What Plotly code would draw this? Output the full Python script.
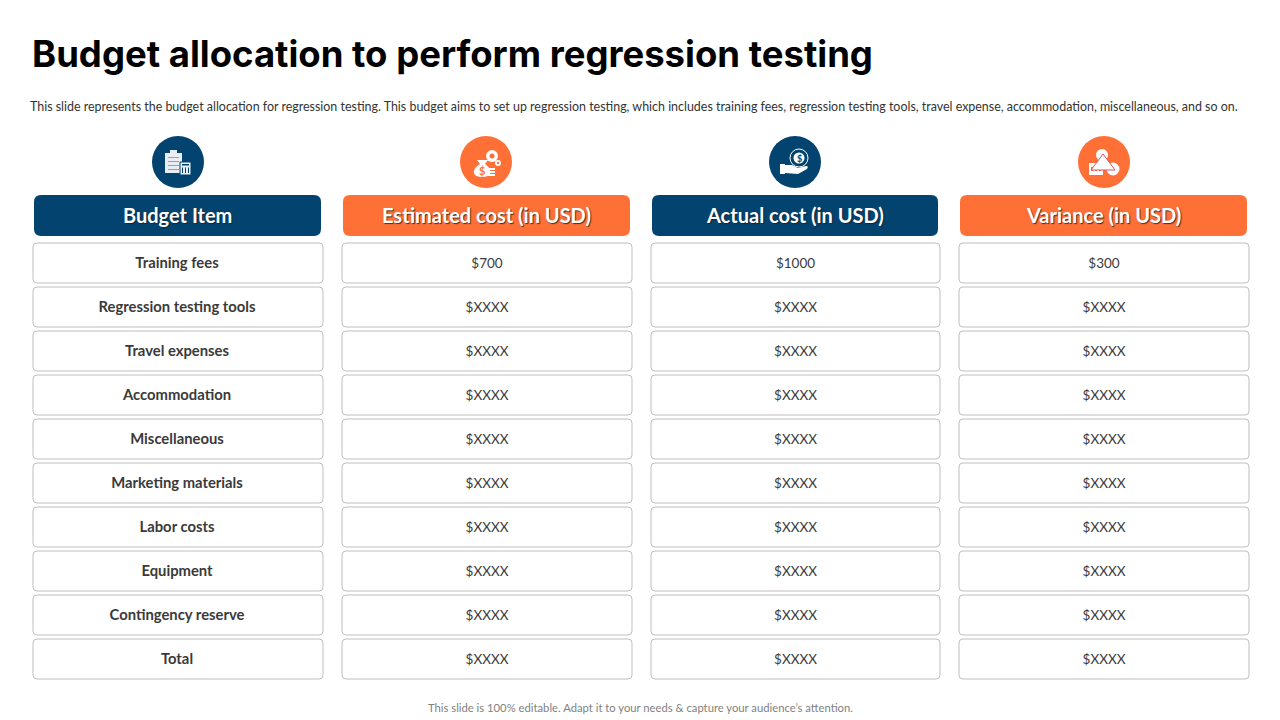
import plotly.graph_objects as go

NAVY = '#03436F'
ORANGE = '#FF7036'
BORDER = '#BFBFBF'
DARK = '#3A3A3A'

title = 'Budget allocation to perform regression testing'
subtitle = ('This slide represents the budget allocation for regression testing. This budget aims to set up '
            'regression testing, which includes training fees, regression testing tools, travel expense, '
            'accommodation, miscellaneous, and so on.')
footer = 'This slide is 100% editable. Adapt it to your needs & capture your audience\u2019s attention.'

headers = ['Budget Item', 'Estimated cost (in USD)', 'Actual cost (in USD)', 'Variance (in USD)']
budget_items = ['Training fees', 'Regression testing tools', 'Travel expenses', 'Accommodation',
                'Miscellaneous', 'Marketing materials', 'Labor costs', 'Equipment',
                'Contingency reserve', 'Total']
estimated = ['$700'] + ['$XXXX'] * 9
actual = ['$1000'] + ['$XXXX'] * 9
variance = ['$300'] + ['$XXXX'] * 9
columns = [budget_items, estimated, actual, variance]

# pixel layout of the slide
cell_x = [(33, 323), (342, 632), (651, 940), (959, 1249)]
head_x = [(34, 321), (343, 630), (652, 938), (960, 1247)]
head_colors = [NAVY, ORANGE, NAVY, ORANGE]
icon_x = [178, 486, 795, 1104]
row_top, row_h, row_step = 243, 40, 44

fig = go.Figure()


def round_rect(x0, y0, x1, y1, r):
    return (f'M{x0+r},{y0} L{x1-r},{y0} Q{x1},{y0} {x1},{y0+r} L{x1},{y1-r} Q{x1},{y1} {x1-r},{y1} '
            f'L{x0+r},{y1} Q{x0},{y1} {x0},{y1-r} L{x0},{y0+r} Q{x0},{y0} {x0+r},{y0} Z')


def path(d, fill='white', line=None, width=1):
    fig.add_shape(type='path', path=d, fillcolor=fill, layer='below',
                  line=dict(color=line or fill, width=width if line else 0))


def rect(x0, y0, x1, y1, fill='white', line=None, width=1):
    fig.add_shape(type='rect', x0=x0, y0=y0, x1=x1, y1=y1, fillcolor=fill, layer='below',
                  line=dict(color=line or fill, width=width if line else 0))


def circle(cx, cy, r, fill='white', line=None, width=1):
    fig.add_shape(type='circle', x0=cx-r, y0=cy-r, x1=cx+r, y1=cy+r, fillcolor=fill, layer='below',
                  line=dict(color=line or fill, width=width if line else 0))


# headers and icon discs
for i, name in enumerate(headers):
    x0, x1 = head_x[i]
    path(round_rect(x0, 195, x1, 236, 7), fill=head_colors[i])
    circle(icon_x[i], 162, 26, fill=head_colors[i])
    fig.add_annotation(x=(x0 + x1) / 2, y=214.5, text=f'<b>{name}</b>', showarrow=False,
                       font=dict(family='Lato', size=20, color='white',
                                 shadow='1px 1px 1px #4a3020' if head_colors[i] == ORANGE else '1px 1px 1px #12263a'))

# table cells
for i, col in enumerate(columns):
    x0, x1 = cell_x[i]
    for r in range(len(col)):
        y0 = row_top + r * row_step
        path(round_rect(x0, y0, x1, y0 + row_h, 4), fill='white', line=BORDER, width=1)
    fig.add_trace(go.Scatter(
        x=[(x0 + x1) / 2 - (1 if i == 0 else 0)] * len(col),
        y=[row_top + r * row_step + row_h / 2 + (1 if i == 0 else 2) for r in range(len(col))],
        mode='text',
        text=[f'<b>{v}</b>' for v in col] if i == 0 else col,
        textposition='middle center',
        textfont=dict(family='Lato', size=14.8 if i == 0 else 13.5, color=DARK),
        hoverinfo='skip',
        showlegend=False,
    ))

# icon 1: clipboard and calculator
rect(165, 153, 182, 173, fill='#E8EEF3')
rect(170, 150, 177, 154, fill='#E8EEF3')
for yy in (157, 161, 165, 169):
    rect(168, yy, 179, yy + 0.8, fill='#6F93AD')
rect(180, 162, 191, 175, fill='#E8EEF3', line=NAVY, width=1)
rect(182, 164, 189, 165.5, fill=NAVY)
for xx in (182, 185, 188):
    rect(xx, 167.5, xx + 1, 173, fill=NAVY)

# icon 2: money bag, gears, coins
path('M477,160 L488,160 L485,164 Q492,169 490,174 Q488,177 482,177 Q475,177 474,173 Q473,168 480,164 Z')
circle(492, 156, 6)
circle(492, 156, 2.5, fill=ORANGE)
circle(498, 163, 3)
circle(498, 163, 1.2, fill=ORANGE)
for yy in (168, 171, 174):
    rect(488, yy, 495, yy + 2)
fig.add_annotation(x=481.5, y=170, text='<b>$</b>', showarrow=False, font=dict(family='Lato', size=11, color=ORANGE))

# icon 3: hand holding a coin
circle(799, 158, 9, fill=NAVY, line='white', width=1)
circle(799, 158, 5.5)
fig.add_annotation(x=799, y=158, text='<b>$</b>', showarrow=False, font=dict(family='Lato', size=9, color=NAVY))
rect(780, 164, 785, 174)
path('M785,165 L792,165 L798,168 L806,166 Q809,166 807,169 L798,174 L785,173 Z')

# icon 4: shapes
circle(1102, 155, 6)
circle(1113, 169, 6.5)
rect(1089, 163, 1103, 175)
for xx in (1091, 1095, 1099):
    rect(xx, 167, xx + 2, 171, fill=ORANGE)
path('M1103,154 L1115,170 L1091,170 Z', fill='white', line='#D9556A', width=1)

fig.add_annotation(x=30, y=54, xanchor='left', text=f'<b>{title}</b>', showarrow=False,
                   font=dict(family='Inter', size=36.5, color='black'))
fig.add_annotation(x=28, y=106.5, xanchor='left', text=subtitle, showarrow=False,
                   font=dict(family='Lato', size=12.44, color='#333333'))
fig.add_annotation(x=640, y=707.5, text=footer, showarrow=False,
                   font=dict(family='Lato', size=11.25, color='#7F7F7F'))

fig.update_layout(
    width=1280, height=720,
    margin=dict(l=0, r=0, t=0, b=0),
    plot_bgcolor='white', paper_bgcolor='white',
    showlegend=False,
    xaxis=dict(range=[0, 1280], visible=False, fixedrange=True),
    yaxis=dict(range=[720, 0], visible=False, fixedrange=True),
)

fig.write_html('out.html', config={'displayModeBar': False},
               post_script="document.body.style.margin='0';")
